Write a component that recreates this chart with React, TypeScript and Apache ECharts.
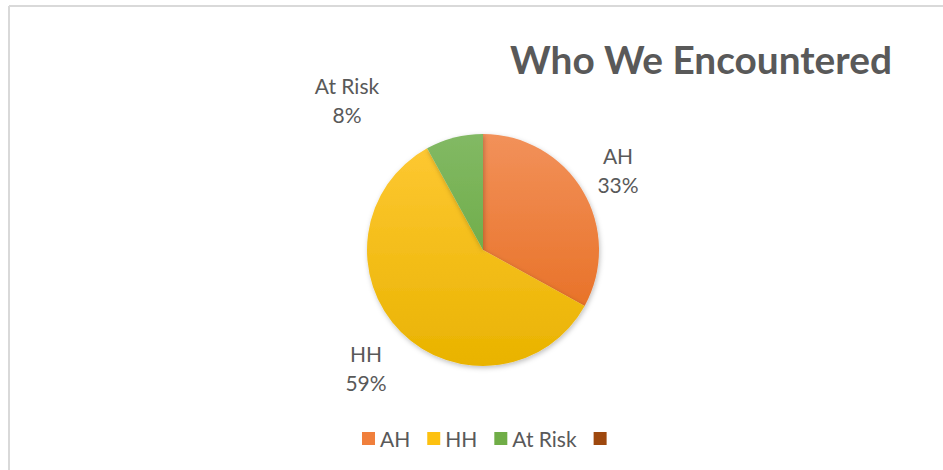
import React, { useEffect, useRef } from "react";
import * as echarts from "echarts";

const categories = ["AH", "HH", "At Risk", "Series4"];
const values = [33, 59, 8, 0];
const topColors = ["#f2915a", "#ffc935", "#82b964", "#a5501c"];
const bottomColors = ["#e56818", "#e9b300", "#5fa332", "#9e480e"];
const legendColors = ["#f07f3c", "#fdc110", "#70ad47", "#9e480e"];
const labelPos: [number, number][] = [
  [618, 170],
  [366, 368],
  [347, 100],
  [0, 0],
];

export default function App() {
  const ref = useRef<HTMLDivElement>(null);
  useEffect(() => {
    if (!ref.current) return;
    const chart = echarts.init(ref.current, undefined, { renderer: "svg" });
    const cx = 483;
    const cy = 250;
    const r = 116;
    const data = categories.map((name, i) => ({
      name,
      value: values[i],
      itemStyle: {
        color: new echarts.graphic.LinearGradient(
          0,
          cy - r,
          0,
          cy + r,
          [
            { offset: 0, color: topColors[i] },
            { offset: 1, color: bottomColors[i] },
          ],
          true
        ),
      },
      label: { show: values[i] > 0 },
      labelLine: { show: false },
    }));
    chart.setOption({
      animation: false,
      backgroundColor: "#ffffff",
      title: {
        text: "Who We Encountered",
        left: 696,
        top: 34,
        textAlign: "center",
        textStyle: {
          fontFamily: "Lato",
          fontWeight: "bold",
          fontSize: 38.8,
          color: "#595959",
        },
      },
      graphic: [
        {
          type: "line",
          shape: { x1: 9, y1: 6, x2: 943, y2: 6 },
          style: { stroke: "#d9d9d9", lineWidth: 2 },
        },
        {
          type: "line",
          shape: { x1: 9, y1: 6, x2: 9, y2: 470 },
          style: { stroke: "#d9d9d9", lineWidth: 2 },
        },
      ],
      legend: {
        left: 357,
        top: 423,
        itemWidth: 13,
        itemHeight: 13,
        itemGap: 17,
        icon: "rect",
        data: categories.map((name, i) => ({
          name,
          itemStyle: { color: legendColors[i] },
        })),
        formatter: (name: string) => (name === "Series4" ? "" : name),
        textStyle: { fontFamily: "Lato", fontSize: 21, color: "#595959" },
        selectedMode: false,
      },
      series: [
        {
          type: "pie",
          center: [cx, cy],
          radius: r,
          startAngle: 90,
          clockwise: true,
          data,
          itemStyle: {
            shadowBlur: 5,
            shadowColor: "rgba(0,0,0,0.25)",
            shadowOffsetX: 1,
            shadowOffsetY: 2,
          },
          label: {
            position: "outside",
            formatter: (p: any) => `${p.name}\n${Math.round(p.percent)}%`,
            fontFamily: "Lato",
            fontSize: 21,
            lineHeight: 29,
            color: "#595959",
            align: "center",
          },
          labelLine: { show: false },
          labelLayout: (p: any) => {
            const pos = labelPos[p.dataIndex];
            return {
              x: pos[0],
              y: pos[1],
              align: "center",
              verticalAlign: "middle",
            };
          },
        },
      ],
    });
    return () => chart.dispose();
  }, []);
  return (
    <div
      ref={ref}
      style={{ position: "fixed", left: 0, top: 0, width: 943, height: 470 }}
    />
  );
}
